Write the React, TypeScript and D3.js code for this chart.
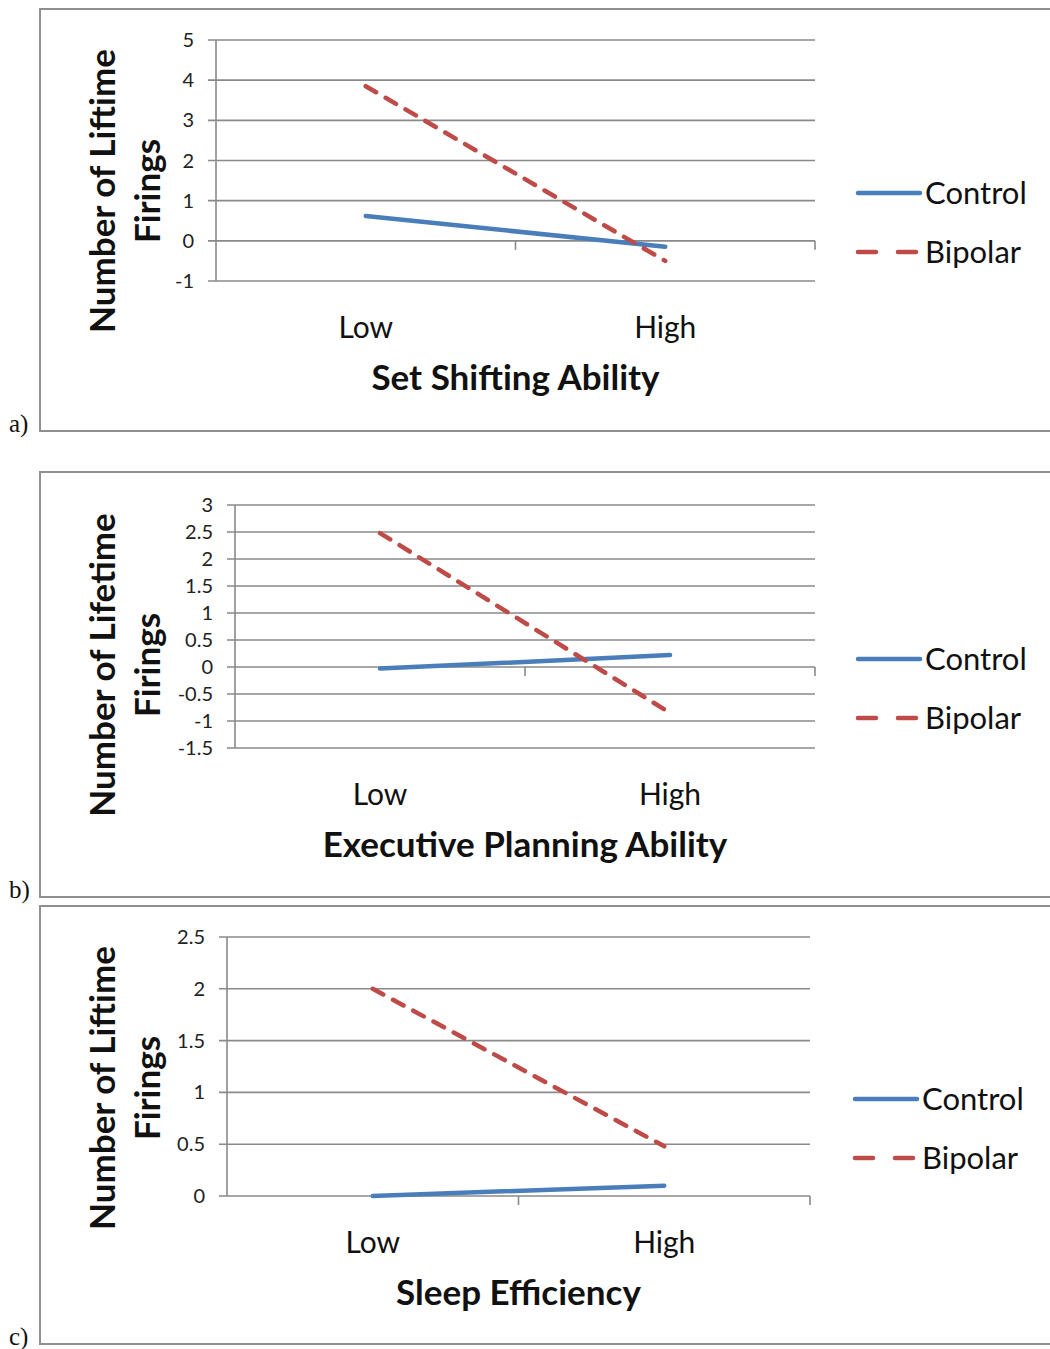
import React from "react";
import * as d3 from "d3";

// categories shared by all three panels
const categories = ["Low", "High"];
const seriesNames = ["Control", "Bipolar"];

// panel a) Set Shifting Ability
const controlA = [0.62, -0.15];
const bipolarA = [3.85, -0.5];
const ticksA = [-1, 0, 1, 2, 3, 4, 5];

// panel b) Executive Planning Ability
const controlB = [-0.03, 0.22];
const bipolarB = [2.48, -0.85];
const ticksB = [-1.5, -1, -0.5, 0, 0.5, 1, 1.5, 2, 2.5, 3];

// panel c) Sleep Efficiency
const controlC = [0.0, 0.1];
const bipolarC = [2.0, 0.48];
const ticksC = [0, 0.5, 1, 1.5, 2, 2.5];

const panels = [
  {
    letter: "a)", title: "Set Shifting Ability", yTitle: "Number of Liftime",
    control: controlA, bipolar: bipolarA, ticks: ticksA,
    box: [9, 431], plot: { left: 216, right: 815, top: 40, bottom: 281 },
    yTitleY: 191, legend: { x0: 858, x1: 920, y: 193 },
  },
  {
    letter: "b)", title: "Executive Planning Ability", yTitle: "Number of Lifetime",
    control: controlB, bipolar: bipolarB, ticks: ticksB,
    box: [472, 897], plot: { left: 235, right: 815, top: 505, bottom: 748 },
    yTitleY: 665, legend: { x0: 858, x1: 920, y: 659 },
  },
  {
    letter: "c)", title: "Sleep Efficiency", yTitle: "Number of Liftime",
    control: controlC, bipolar: bipolarC, ticks: ticksC,
    box: [906, 1344], plot: { left: 227, right: 810, top: 937, bottom: 1196 },
    yTitleY: 1088, legend: { x0: 855, x1: 917, y: 1099 },
  },
];

const BLUE = "#4a7ebb";
const RED = "#be4b48";
const GRID = "#8a8a8a";
const FONT = "Lato, 'Open Sans', sans-serif";

function Panel({ p }: { p: any }) {
  const { left, right, top, bottom } = p.plot;
  const x = d3.scaleBand().domain(categories).range([left, right]).padding(0);
  const y = d3.scaleLinear().domain(d3.extent(p.ticks) as [number, number]).range([bottom, top]);
  const cx = (c: string) => (x(c) as number) + x.bandwidth() / 2;
  const line = d3
    .line<number>()
    .x((_, i) => cx(categories[i]))
    .y((d) => y(d));
  const y0 = y(0);
  const boundaries = [left + x.bandwidth(), right];

  return (
    <g>
      <rect x={40} y={p.box[0]} width={1030} height={p.box[1] - p.box[0]} fill="none" stroke="#8f8f8f" strokeWidth={2} />
      <text x={9} y={p.box[1] + 1} fontFamily="'Liberation Serif', serif" fontSize={25} fill="#111">{p.letter}</text>

      {p.ticks.map((t: number) => (
        <g key={t}>
          <line x1={left - 8} x2={right} y1={y(t)} y2={y(t)} stroke={GRID} strokeWidth={1.6} />
          <text x={left - 22} y={y(t)} dy="0.35em" textAnchor="end" fontFamily={FONT} fontSize={20} fill="#222">{String(t)}</text>
        </g>
      ))}
      <line x1={left} x2={left} y1={top} y2={bottom} stroke={GRID} strokeWidth={1.6} />
      {boundaries.map((bx, i) => (
        <line key={i} x1={bx} x2={bx} y1={y0} y2={y0 + 9} stroke={GRID} strokeWidth={1.6} />
      ))}

      <path d={line(p.control) as string} fill="none" stroke={BLUE} strokeWidth={4.5} strokeLinecap="round" />
      <path d={line(p.bipolar) as string} fill="none" stroke={RED} strokeWidth={4.5} strokeLinecap="round" strokeDasharray="12,11" />

      {categories.map((c) => (
        <text key={c} x={cx(c)} y={bottom + 46} dy="0.35em" textAnchor="middle" fontFamily={FONT} fontSize={30} fill="#111">{c}</text>
      ))}
      <text x={(left + right) / 2} y={bottom + 97} dy="0.35em" textAnchor="middle" fontFamily={FONT} fontWeight="bold" fontSize={35} fill="#111">{p.title}</text>

      <text transform={`translate(103,${p.yTitleY}) rotate(-90)`} dy="0.35em" textAnchor="middle" fontFamily={FONT} fontWeight="bold" fontSize={35} fill="#111">{p.yTitle}</text>
      <text transform={`translate(148,${p.yTitleY}) rotate(-90)`} dy="0.35em" textAnchor="middle" fontFamily={FONT} fontWeight="bold" fontSize={35} fill="#111">Firings</text>

      {seriesNames.map((s, i) => {
        const ly = p.legend.y + i * 59;
        return (
          <g key={s}>
            <line x1={p.legend.x0} x2={p.legend.x1} y1={ly} y2={ly} stroke={i === 0 ? BLUE : RED} strokeWidth={4.5} strokeLinecap="round" strokeDasharray={i === 0 ? undefined : "18,22"} />
            <text x={p.legend.x1 + 5} y={ly} dy="0.35em" fontFamily={FONT} fontSize={31} fill="#111">{s}</text>
          </g>
        );
      })}
    </g>
  );
}

export default function App() {
  return (
    <svg width={1050} height={1349} style={{ position: "absolute", left: 0, top: 0, background: "#fff" }}>
      {panels.map((p) => (
        <Panel key={p.letter} p={p} />
      ))}
    </svg>
  );
}
